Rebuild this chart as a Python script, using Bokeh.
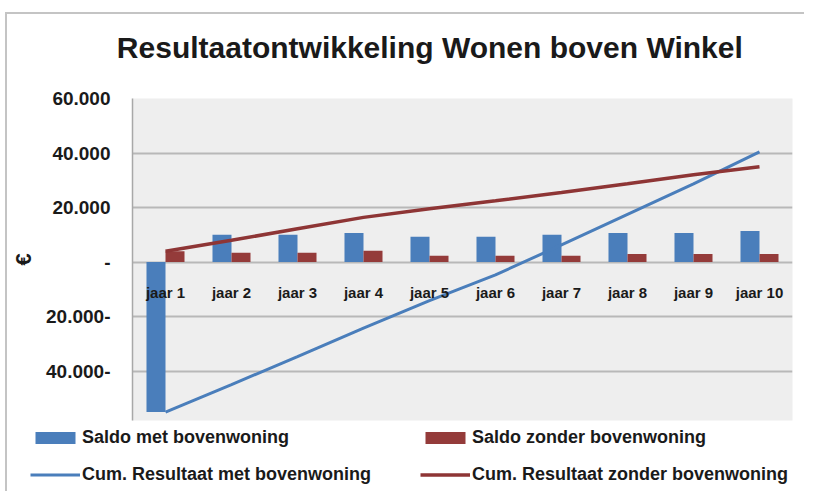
from bokeh.plotting import figure
from bokeh.layouts import column
from bokeh.models import FactorRange, FixedTicker, Legend, LegendItem, ColumnDataSource
from bokeh.transform import dodge
from bokeh.core.properties import value
from bokeh.embed import file_html
from bokeh.resources import INLINE

categories = ["jaar 1", "jaar 2", "jaar 3", "jaar 4", "jaar 5",
              "jaar 6", "jaar 7", "jaar 8", "jaar 9", "jaar 10"]
saldo_met = [-55000, 10000, 10000, 10700, 9300, 9300, 10000, 10700, 10700, 11400]
saldo_zonder = [4000, 3400, 3400, 4200, 2300, 2300, 2300, 3000, 3000, 3000]
cum_met = [-55000, -44900, -34700, -24200, -14100, -4700, 6300, 17500, 28700, 40400]
cum_zonder = [4000, 8000, 12200, 16400, 19600, 22500, 25500, 28700, 32000, 35000]
y_ticks = [-60000, -40000, -20000, 0, 20000, 40000, 60000]
y_tick_labels = ["60.000-", "40.000-", "20.000-", "-", "20.000", "40.000", "60.000"]

title_text = "Resultaatontwikkeling  Wonen boven Winkel"
series_names = ["Saldo met bovenwoning", "Saldo zonder bovenwoning",
                "Cum. Resultaat met bovenwoning", "Cum. Resultaat zonder bovenwoning"]

BLUE = "#4A7EBB"
RED = "#943B3A"
RED_LINE = "#8E3535"
FONT = "Liberation Sans"
TXT = "#1a1a1a"
W = 799

# title strip
tf = figure(width=W, height=70, x_range=(0, W), y_range=(0, 70), output_backend="svg",
            toolbar_location=None, min_border=0, background_fill_color="white",
            border_fill_color="white", outline_line_color=None)
tf.frame_align = False
tf.axis.visible = False
tf.grid.visible = False
tf.text(x=[426.5], y=[37], text=[title_text], text_align="center", text_baseline="middle",
        text_font=value(FONT), text_font_size="30px", text_font_style="bold", text_color=TXT)

src = ColumnDataSource(dict(cat=categories, met=saldo_met, zonder=saldo_zonder,
                            cmet=cum_met, czonder=cum_zonder, zero=[0] * len(categories)))

p = figure(width=W, height=338, x_range=FactorRange(*categories, range_padding=0),
           y_range=(-58100, 60000), output_backend="svg", toolbar_location=None,
           min_border_left=125, min_border_right=14, min_border_top=14, min_border_bottom=2,
           background_fill_color="#EEEEEE", border_fill_color="white")
p.frame_align = False

p.vbar(x=dodge("cat", -0.144, range=p.x_range), top="met", bottom=0, width=0.288,
       source=src, fill_color=BLUE, line_color=None)
p.vbar(x=dodge("cat", 0.144, range=p.x_range), top="zonder", bottom=0, width=0.288,
       source=src, fill_color=RED, line_color=None)
p.line(x="cat", y="cmet", source=src, line_color=BLUE, line_width=3)
p.line(x="cat", y="czonder", source=src, line_color=RED_LINE, line_width=3.5)

p.text(x="cat", y="zero", text="cat", source=src, text_align="center", text_baseline="top",
       y_offset=22, text_font=value(FONT), text_font_size="15px", text_font_style="bold",
       text_color=TXT)

p.xaxis.visible = False
p.xgrid.grid_line_color = None
p.ygrid.grid_line_color = "#B8B8B8"
p.ygrid.grid_line_width = 2
p.outline_line_color = None

p.yaxis.ticker = FixedTicker(ticks=y_ticks)
p.yaxis.major_label_overrides = {t: l for t, l in zip(y_ticks, y_tick_labels)}
p.yaxis.major_tick_line_color = None
p.yaxis.minor_tick_line_color = None
p.yaxis.axis_line_color = "#A8A8A8"
p.yaxis.axis_line_width = 1.5
p.yaxis.major_label_text_font = FONT
p.yaxis.major_label_text_font_size = "19px"
p.yaxis.major_label_text_font_style = "bold"
p.yaxis.major_label_text_color = TXT
p.yaxis.major_label_standoff = 16
p.yaxis.axis_label = "€"
p.yaxis.axis_label_text_font = FONT
p.yaxis.axis_label_text_font_size = "22px"
p.yaxis.axis_label_text_font_style = "bold"
p.yaxis.axis_label_text_color = TXT
p.yaxis.axis_label_standoff = 7

# legend strip below the chart (swatch renderers sit outside the visible range)
lg = figure(width=W, height=71, x_range=(0, 1), y_range=(0, 1), output_backend="svg",
            toolbar_location=None, min_border=0, background_fill_color="white",
            border_fill_color="white", outline_line_color=None)
lg.frame_align = False
lg.axis.visible = False
lg.grid.visible = False
e1 = lg.vbar(x=[5], top=[1], width=0.1, fill_color=BLUE, line_color=None)
e2 = lg.vbar(x=[5], top=[1], width=0.1, fill_color=RED, line_color=None)
e3 = lg.line(x=[5, 6], y=[5, 6], line_color=BLUE, line_width=3)
e4 = lg.line(x=[5, 6], y=[5, 6], line_color=RED_LINE, line_width=3.5)

legend = Legend(items=[LegendItem(label=series_names[0], renderers=[e1]),
                       LegendItem(label=series_names[1], renderers=[e2]),
                       LegendItem(label=series_names[2], renderers=[e3]),
                       LegendItem(label=series_names[3], renderers=[e4])],
                ncols=2, orientation="horizontal", location=(23, 8),
                glyph_width=50, glyph_height=15, label_height=15, label_width=322,
                label_standoff=2, spacing=16, padding=0, margin=0,
                background_fill_alpha=0, border_line_color=None,
                label_text_font=FONT, label_text_font_size="18px",
                label_text_font_style="bold", label_text_color=TXT)
lg.add_layout(legend, "center")

layout = column(tf, p, lg, spacing=0, margin=(14, 0, 0, 7),
                styles={"box-shadow": "-2px -2px 0 0 #C4C4C4"})
open("out.html", "w").write(file_html(layout, INLINE))
